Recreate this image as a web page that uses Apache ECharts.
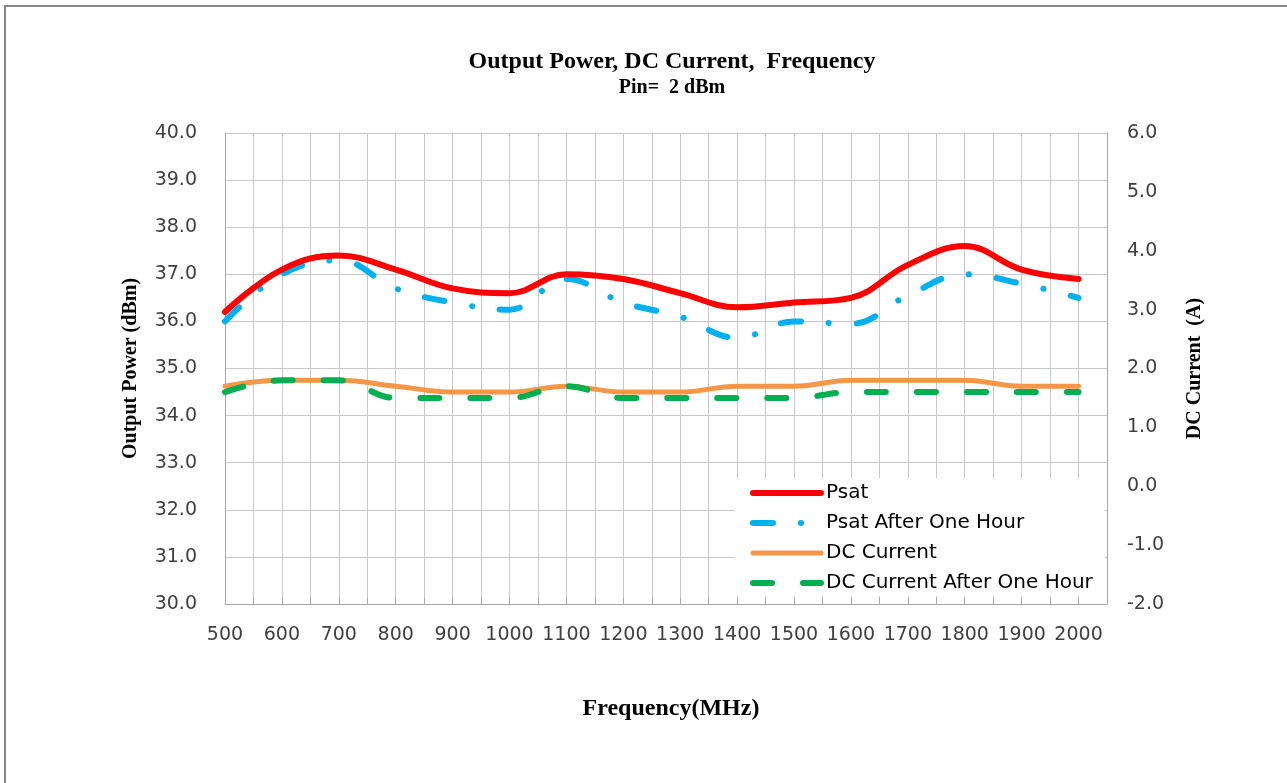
<!DOCTYPE html>
<html>
<head>
<meta charset="utf-8">
<script src="https://cdn.jsdelivr.net/npm/echarts@6/dist/echarts.min.js"></script>
<style>
html,body{margin:0;padding:0;background:#fff;}
#chart{width:1287px;height:783px;}
</style>
</head>
<body>
<div id="chart"></div>
<script>
// Frequency categories (MHz)
const freq = [500, 600, 700, 800, 900, 1000, 1100, 1200, 1300, 1400, 1500, 1600, 1700, 1800, 1900, 2000];
// Output power (dBm)
const psat = [36.2, 37.1, 37.4, 37.1, 36.7, 36.6, 37.0, 36.9, 36.6, 36.3, 36.4, 36.5, 37.2, 37.6, 37.1, 36.9];
const psatAfterHour = [36.0, 37.0, 37.3, 36.7, 36.4, 36.25, 36.9, 36.4, 36.1, 35.65, 36.0, 35.95, 36.55, 37.0, 36.8, 36.5];
// DC current (A)
const dcCurrent = [1.7, 1.8, 1.8, 1.7, 1.6, 1.6, 1.7, 1.6, 1.6, 1.7, 1.7, 1.8, 1.8, 1.8, 1.7, 1.7];
const dcAfterHour = [1.6, 1.8, 1.8, 1.5, 1.5, 1.5, 1.7, 1.5, 1.5, 1.5, 1.5, 1.6, 1.6, 1.6, 1.6, 1.6];

const pair = arr => freq.map((f, i) => [f, arr[i]]);

const chart = echarts.init(document.getElementById('chart'), null, {renderer: 'canvas'});
const serif = '"Liberation Serif", "Times New Roman", serif';
const sans = '"DejaVu Sans", "Open Sans", sans-serif';

chart.setOption({
  animation: false,
  backgroundColor: '#fff',
  title: {
    text: '{a|Output Power, DC Current,  Frequency}\n{b|Pin=  2 dBm}',
    left: 672, top: 49, padding: 0,
    textAlign: 'center',
    textStyle: {
      fontFamily: serif, fontWeight: 'bold', color: '#000',
      rich: {
        a: {fontFamily: serif, fontWeight: 'bold', fontSize: 24, lineHeight: 26, color: '#000'},
        b: {fontFamily: serif, fontWeight: 'bold', fontSize: 20, lineHeight: 25, color: '#000'}
      }
    }
  },
  graphic: [{
    type: 'rect', shape: {x: 5, y: 6, width: 1300, height: 800},
    style: {fill: 'none', stroke: '#888', lineWidth: 2}, silent: true, z: -10
  }],
  grid: {left: 225, right: 180, top: 133, bottom: 179, containLabel: false},
  legend: {
    orient: 'vertical',
    left: 735, top: 478,
    padding: [5, 12, 3, 15],
    itemWidth: 68, itemHeight: 20, itemGap: 10,
    backgroundColor: '#fff',
    itemStyle: {opacity: 0},
    lineStyle: {width: 'inherit', cap: 'round'},
    textStyle: {fontFamily: sans, fontSize: 20, color: '#000'},
    data: ['Psat', 'Psat After One Hour', 'DC Current', 'DC Current After One Hour']
  },
  xAxis: {
    type: 'value', min: 500, max: 2050, interval: 50,
    name: 'Frequency(MHz)', nameLocation: 'middle', nameGap: 93,
    nameTextStyle: {fontFamily: serif, fontWeight: 'bold', fontSize: 24, color: '#000', padding: [0, 0, 0, 10]},
    axisLine: {show: true, onZero: false, lineStyle: {color: '#a6a6a6', width: 1}},
    axisTick: {show: true, inside: true, length: 6, lineStyle: {color: '#a6a6a6'}},
    splitLine: {show: true, lineStyle: {color: '#c8c8c8', width: 1}},
    axisLabel: {
      margin: 22, fontFamily: sans, fontSize: 19, color: '#404040',
      formatter: v => (v % 100 === 0 && v <= 2000) ? String(v) : ''
    }
  },
  yAxis: [{
    type: 'value', min: 30, max: 40, interval: 1, position: 'left',
    name: 'Output Power (dBm)', nameLocation: 'middle', nameGap: 84,
    nameTextStyle: {fontFamily: serif, fontWeight: 'bold', fontSize: 20, color: '#000'},
    axisLine: {show: true, lineStyle: {color: '#a6a6a6'}},
    axisTick: {show: false},
    splitLine: {show: true, lineStyle: {color: '#c8c8c8', width: 1}},
    axisLabel: {margin: 28, fontFamily: sans, fontSize: 19, color: '#404040', formatter: v => v.toFixed(1)}
  }, {
    type: 'value', min: -2, max: 6, interval: 1, position: 'right',
    name: 'DC Current  (A)', nameLocation: 'middle', nameGap: 78,
    nameTextStyle: {fontFamily: serif, fontWeight: 'bold', fontSize: 20, color: '#000'},
    axisLine: {show: true, lineStyle: {color: '#a6a6a6'}},
    axisTick: {show: false},
    splitLine: {show: false},
    axisLabel: {margin: 20, fontFamily: sans, fontSize: 19, color: '#404040', formatter: v => v.toFixed(1)}
  }],
  series: [{
    name: 'Psat', type: 'line', yAxisIndex: 0, smooth: 0.4, symbol: 'none',
    data: pair(psat), z: 4,
    lineStyle: {color: '#ff0000', width: 6, cap: 'round', join: 'round'},
    itemStyle: {color: '#ff0000'}
  }, {
    name: 'Psat After One Hour', type: 'line', yAxisIndex: 0, smooth: 0.4, symbol: 'none',
    data: pair(psatAfterHour), z: 3,
    lineStyle: {color: '#00b0f0', width: 6, cap: 'round', type: [20, 28, 0.1, 28]},
    itemStyle: {color: '#00b0f0'}
  }, {
    name: 'DC Current', type: 'line', yAxisIndex: 1, smooth: 0.4, symbol: 'none',
    data: pair(dcCurrent), z: 2,
    lineStyle: {color: '#f79646', width: 5, cap: 'round'},
    itemStyle: {color: '#f79646'}
  }, {
    name: 'DC Current After One Hour', type: 'line', yAxisIndex: 1, smooth: 0.4, symbol: 'none',
    data: pair(dcAfterHour), z: 3,
    lineStyle: {color: '#00b050', width: 6, cap: 'round', type: [19, 31]},
    itemStyle: {color: '#00b050'}
  }]
});
</script>
</body>
</html>
